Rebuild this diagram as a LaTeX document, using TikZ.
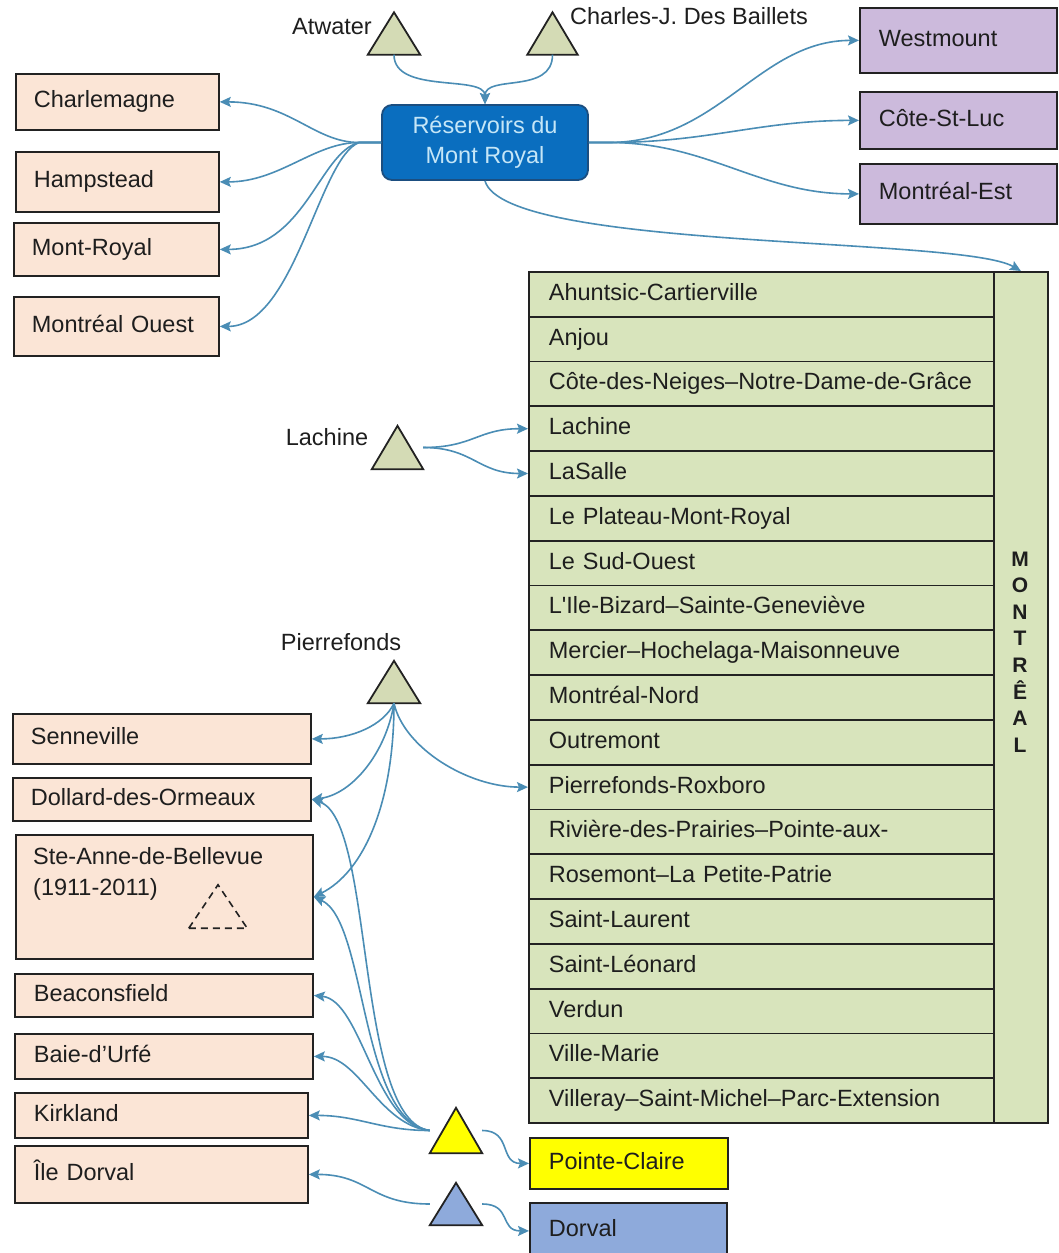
\documentclass[tikz,border=0pt]{standalone}
\usepackage{fontspec}
\setmainfont{Liberation Sans}
\usetikzlibrary{arrows.meta}

\definecolor{ink}{HTML}{1E1E1E}
\definecolor{frame}{HTML}{222222}
\definecolor{peach}{HTML}{FBE5D6}
\definecolor{lilac}{HTML}{CCBADC}
\definecolor{sage}{HTML}{D8E4BC}
\definecolor{trisage}{HTML}{D4DBB5}
\definecolor{link}{HTML}{4A8DB5}
\definecolor{hubfill}{HTML}{0A6EBF}
\definecolor{hubline}{HTML}{1B4E80}
\definecolor{hubtext}{HTML}{C5E6F7}
\definecolor{pcyellow}{HTML}{FFFF00}
\definecolor{dvblue}{HTML}{8EAADB}

\begin{document}
\begin{tikzpicture}[x=1pt,y=-1pt,
  every node/.style={font=\fontsize{23.5}{27}\selectfont, text=ink},
  muni/.style={draw=frame, fill=peach, line width=1.8pt, anchor=north west,
    inner xsep=18pt, inner ysep=0pt, align=left, text height=17pt, text depth=5pt},
  cityrow/.style={draw=frame, fill=sage, line width=1.8pt, anchor=north west,
    inner xsep=20pt, inner ysep=0pt, align=left, text width=425pt,
    minimum height=44.8pt, text height=17pt, text depth=5pt},
  plantspot/.style={inner sep=0pt, minimum width=52pt, minimum height=42pt},
  plant/.style={draw=frame, line width=1.8pt, line join=miter},
  link/.style={draw=link, line width=1.6pt,
    -{Stealth[length=11pt,width=10pt,inset=2pt]}},
  tag/.style={text height=17pt, text depth=5pt, inner sep=0pt}
]
\useasboundingbox (0,0) rectangle (1058,1253);
\fill[white] (0,0) rectangle (1058,1253);

% central reservoir
\node[draw=hubline, fill=hubfill, line width=1.8pt, rounded corners=10pt,
  minimum width=206pt, minimum height=75pt, align=center, text=hubtext,
  font=\fontsize{23.5}{30}\selectfont] (hub) at (485,142.5) {Réservoirs du\\Mont Royal};

% top plants
\node[plantspot] (atw) at (394,33.5) {};
\draw[plant, fill=trisage] (atw.south west) -- (atw.north) -- (atw.south east) -- cycle;
\node[tag, anchor=east] (atwlbl) at (372,28) {Atwater};
\node[plantspot, minimum width=50pt] (cjd) at (552.5,33.5) {};
\draw[plant, fill=trisage] (cjd.south west) -- (cjd.north) -- (cjd.south east) -- cycle;
\node[tag, anchor=west] (cjdlbl) at (570,18) {Charles-J. Des Baillets};

% western suburbs
\node[muni, text width=167pt, minimum height=56pt] (charl) at (15,73) {Charlemagne};
\node[muni, text width=167pt, minimum height=60pt] (hamp) at (15,151) {Hampstead};
\node[muni, text width=169pt, minimum height=53pt] (mroyal) at (13,222) {Mont-Royal};
\node[muni, text width=169pt, minimum height=59pt] (mouest) at (13,296) {Montréal Ouest};

% eastern suburbs
\node[muni, fill=lilac, inner xsep=19pt, text width=159pt, minimum height=65pt] (westm) at (859,7) {Westmount};
\node[muni, fill=lilac, inner xsep=19pt, text width=159pt, minimum height=57pt] (cote) at (859,91) {Côte-St-Luc};
\node[muni, fill=lilac, inner xsep=19pt, text width=159pt, minimum height=60pt] (mest) at (859,163) {Montréal-Est};

% boroughs of Montreal
\foreach \name [count=\i from 0] in {Ahuntsic-Cartierville, Anjou,
  Côte-des-Neiges–Notre-Dame-de-Grâce, Lachine, LaSalle, Le Plateau-Mont-Royal,
  Le Sud-Ouest, L\textquotesingle Ile-Bizard–Sainte-Geneviève, Mercier–Hochelaga-Maisonneuve,
  Montréal-Nord, Outremont, Pierrefonds-Roxboro, Rivière-des-Prairies–Pointe-aux-,
  Rosemont–La Petite-Patrie, Saint-Laurent, Saint-Léonard, Verdun, Ville-Marie,
  Villeray–Saint-Michel–Parc-Extension}
  \node[cityrow] (row\i) at (528,{271+\i*44.8}) {\mbox{\name}};
\node[draw=frame, fill=sage, line width=1.8pt, anchor=north west, inner sep=0pt,
  minimum width=54pt, minimum height=851pt] (mtl) at (993,271) {};
\node[align=center, inner sep=0pt, font=\bfseries\fontsize{21}{26.6}\selectfont]
  (mtlname) at (1020,652) {M\\O\\N\\T\\R\\Ê\\A\\L};

% Lachine plant
\node[plantspot, minimum width=51pt, minimum height=43pt] (lach) at (397.5,447.5) {};
\draw[plant, fill=trisage] (lach.south west) -- (lach.north) -- (lach.south east) -- cycle;
\node[tag] (lachlbl) at (327,439) {Lachine};

% Pierrefonds plant and its suburbs
\node[plantspot] (pier) at (394,682) {};
\draw[plant, fill=trisage] (pier.south west) -- (pier.north) -- (pier.south east) -- cycle;
\node[tag] (pierlbl) at (341,644) {Pierrefonds};
\node[muni, text width=262pt, minimum height=50pt] (senn) at (12,713) {Senneville};
\node[muni, text width=262pt, minimum height=43pt] (doll) at (12,777) {Dollard-des-Ormeaux};
\node[muni, text width=261pt, minimum height=124pt] (ste) at (15,834) {};
\node[tag, anchor=west] (stename) at (33,858) {Ste-Anne-de-Bellevue};
\node[tag, anchor=west] (steyears) at (33,889) {(1911-2011)};
\node[plantspot, minimum width=58pt, minimum height=43pt] (ghost) at (218,906.5) {};
\draw[frame, line width=1.6pt, dashed, dash pattern=on 7pt off 5pt]
  (ghost.south west) -- (ghost.north) -- (ghost.south east) -- cycle;

% Pointe-Claire and Dorval plants
\node[muni, inner xsep=19pt, text width=260pt, minimum height=43pt] (beac) at (14,973) {Beaconsfield};
\node[muni, inner xsep=19pt, text width=260pt, minimum height=45pt] (baie) at (14,1033) {Baie-d'Urfé};
\node[muni, inner xsep=19pt, text width=255pt, minimum height=45pt] (kirk) at (14,1092) {Kirkland};
\node[muni, inner xsep=19pt, text width=255pt, minimum height=57pt] (ildorval) at (14,1145) {Île Dorval};
\node[plantspot, minimum height=45pt] (pc) at (456,1130.5) {};
\draw[plant, fill=pcyellow] (pc.south west) -- (pc.north) -- (pc.south east) -- cycle;
\node[plantspot] (dv) at (456,1204) {};
\draw[plant, fill=dvblue] (dv.south west) -- (dv.north) -- (dv.south east) -- cycle;
\node[muni, fill=pcyellow, inner xsep=19pt, text width=160pt, minimum height=51pt] (pcbox) at (529,1137) {Pointe-Claire};
\node[muni, fill=dvblue, inner xsep=19pt, text width=159pt, minimum height=56pt] (dvbox) at (529,1202) {Dorval};

% supply links
\draw[link] (atw.south) .. controls +(0,40) and +(0,-30) .. (hub.north);
\draw[link] (cjd.south) .. controls +(0,40) and +(0,-30) .. (hub.north);

\draw[link] (hub.west) -- ++(-22,0) .. controls +(-45,0) and +(70,0) .. (charl.east);
\draw[link] (hub.west) -- ++(-22,0) .. controls +(-45,0) and +(60,0) .. (hamp.east);
\draw[link] (hub.west) -- ++(-22,0) .. controls +(-40,10) and +(85,0) .. (mroyal.east);
\draw[link] (hub.west) -- ++(-22,0) .. controls +(-40,15) and +(75,0) .. (mouest.east);

\draw[link] (hub.east) -- ++(20,0) .. controls +(110,0) and +(-100,0) .. (westm.west);
\draw[link] (hub.east) -- ++(20,0) .. controls +(100,0) and +(-100,0) .. (cote.west);
\draw[link] (hub.east) -- ++(20,0) .. controls +(100,0) and +(-100,0) .. (mest.west);
\draw[link] (hub.south) .. controls +(20,70) and +(-60,-35) .. (mtl.north);

\draw[link] (lach.east) .. controls +(50,0) and +(-50,0) .. (row3.west);
\draw[link] (lach.east) .. controls +(50,0) and +(-50,0) .. (row4.west);

\draw[link] (pier.south) .. controls +(-10,22) and +(40,0) .. (senn.east);
\draw[link] (pier.south) .. controls +(-8,50) and +(40,-5) .. (doll.east);
\draw[link] (pier.south) .. controls +(0,100) and +(50,-25) .. (ste.east);
\draw[link] (pier.south) .. controls +(10,45) and +(-60,0) .. (row11.west);

\draw[link] (pc.west) .. controls +(-75,-10) and +(63,21) .. (doll.east);
\draw[link] (pc.west) .. controls +(-70,-10) and +(53,24) .. (ste.east);
\draw[link] (pc.west) .. controls +(-55,-5) and +(48,5) .. (beac.east);
\draw[link] (pc.west) .. controls +(-50,-5) and +(45,0) .. (baie.east);
\draw[link] (pc.west) .. controls +(-50,0) and +(50,0) .. (kirk.east);
\draw[link] (pc.east) .. controls +(30,0) and +(-30,0) .. (pcbox.west);

\draw[link] (dv.west) .. controls +(-60,0) and +(60,0) .. (ildorval.east);
\draw[link] (dv.east) .. controls +(30,0) and +(-30,0) .. (dvbox.west);
\end{tikzpicture}
\end{document}
